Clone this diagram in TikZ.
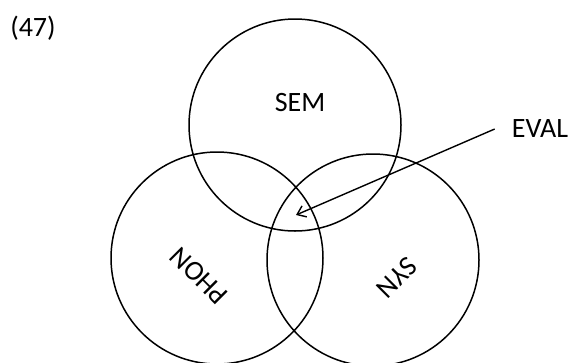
\documentclass[tikz,border=0pt]{standalone}
\usepackage{fontspec}
\setmainfont{Carlito}
\usetikzlibrary{arrows.meta}

\begin{document}
\begin{tikzpicture}[x=1pt,y=-1pt,
  venn/.style={draw,circle,line width=1.5pt,minimum size=212pt,inner sep=0pt},
  lbl/.style={font=\fontsize{28}{34}\selectfont,inner sep=0pt}]
\useasboundingbox (0,0) rectangle (572,362);
\node [venn] (sem) at (295,125) {};
\node [venn] (phon) at (217,258) {};
\node [venn] (syn) at (373,260) {};
\node [lbl] (num) at (33,28) {(47)};
\node [lbl] (semlbl) at (300,103) {SEM};
\node [lbl,rotate=135] (phonlbl) at (199,276) {PHON};
\node [lbl,rotate=225] (synlbl) at (397,278) {SYN};
\node [lbl] (eval) at (540,129) {EVAL};
\coordinate (evaltip) at (296,215);
\draw [line width=1.4pt,-{Straight Barb[length=8pt,width=12pt]}] ([xshift=-17pt]eval.west) -- (evaltip);
\end{tikzpicture}
\end{document}
